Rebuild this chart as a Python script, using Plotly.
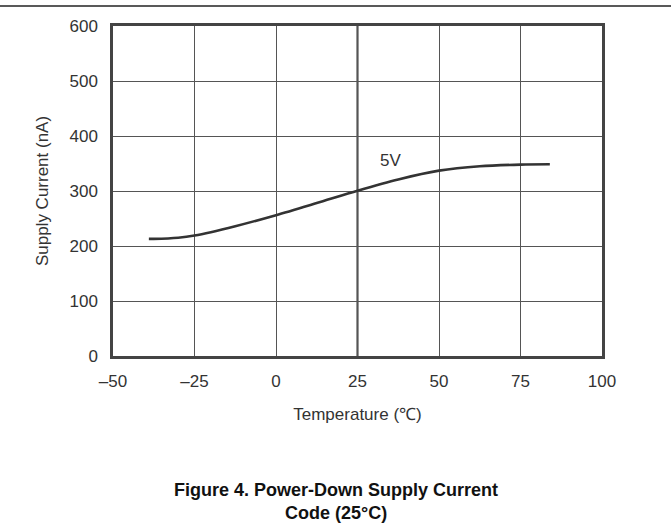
import plotly.graph_objects as go

# Data
temperature = [-39, -37.5, -30, -25, -12.5, 0, 12.5, 25, 37.5, 50, 62.5, 75, 84]
supply_current = [213, 213, 215, 219, 236, 256, 278, 300.5, 321, 337, 345, 348, 348.5]

x_tick_vals = [-50, -25, 0, 25, 50, 75, 100]
x_tick_text = ["\u201350", "\u201325", "0", "25", "50", "75", "100"]
y_tick_vals = [0, 100, 200, 300, 400, 500, 600]

series_label = "5V"
label_pos = (35, 356)
highlight_x = 25

FONT = "Liberation Sans, Arial, sans-serif"

L, R, T, B = 113, 69, 26, 175
W, H = 671, 531
pw, ph = W - L - R, H - T - B
plot_bottom = H - B

fig = go.Figure()
fig.add_trace(go.Scatter(
    x=temperature, y=supply_current, mode="lines",
    line=dict(color="#333333", width=2.6, shape="spline", smoothing=0.8),
    showlegend=False, hoverinfo="skip",
))

fig.add_shape(type="line", xref="x", yref="paper", x0=highlight_x, x1=highlight_x,
              y0=0, y1=1, line=dict(color="#333333", width=2), layer="below")

# page top rule
fig.add_shape(type="line", xref="paper", yref="paper",
              x0=-L / pw, x1=(W - L) / pw, y0=1 + (T - 6) / ph, y1=1 + (T - 6) / ph,
              line=dict(color="#222222", width=1.5))

fig.add_annotation(x=label_pos[0], y=label_pos[1], text=series_label, showarrow=False,
                   font=dict(family=FONT, size=17, color="#333333"))

cx = (W / 2 - L) / pw
fig.add_annotation(xref="paper", yref="paper", x=cx, y=-(490 - plot_bottom) / ph,
                   text="<b>Figure 4. Power-Down Supply Current</b>", showarrow=False,
                   font=dict(family=FONT, size=18, color="#111111"), yanchor="middle")
fig.add_annotation(xref="paper", yref="paper", x=cx, y=-(513 - plot_bottom) / ph,
                   text="<b>Code (25\u00b0C)</b>", showarrow=False,
                   font=dict(family=FONT, size=18, color="#111111"), yanchor="middle")

fig.update_layout(
    width=W, height=H,
    margin=dict(l=L, r=R, t=T, b=B),
    paper_bgcolor="white", plot_bgcolor="white",
    font=dict(family=FONT, size=17, color="#333333"),
    xaxis=dict(range=[-50, 100], tickvals=x_tick_vals, ticktext=x_tick_text,
               showgrid=True, gridcolor="#555555", gridwidth=1,
               showline=True, linecolor="#444444", linewidth=2.5, mirror=True,
               zeroline=False, ticks="", ticklabelstandoff=8,
               tickfont=dict(family=FONT, size=17, color="#333333"),
               title=dict(text="Temperature (\u2103)", standoff=18,
                          font=dict(family=FONT, size=17, color="#333333"))),
    yaxis=dict(range=[0, 600], tickvals=y_tick_vals,
               showgrid=True, gridcolor="#555555", gridwidth=1,
               showline=True, linecolor="#444444", linewidth=2.5, mirror=True,
               zeroline=False, ticks="", ticklabelstandoff=9,
               tickfont=dict(family=FONT, size=17, color="#333333"),
               title=dict(text="Supply Current (nA)", standoff=17,
                          font=dict(family=FONT, size=17, color="#333333"))),
)

fig.write_html("out.html", config={"displayModeBar": False},
               post_script="document.body.style.margin='0px';")
